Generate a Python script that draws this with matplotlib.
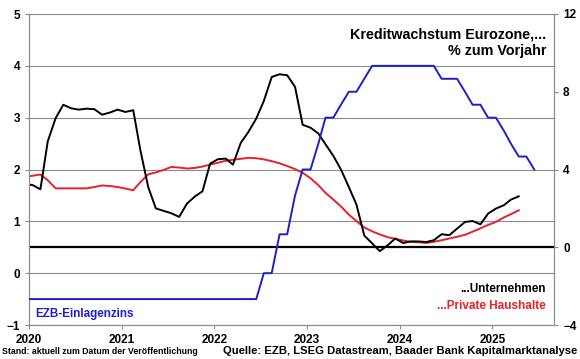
import numpy as np
import pandas as pd
import matplotlib
matplotlib.use("Agg")
import matplotlib.pyplot as plt
import matplotlib.dates as mdates

plt.rcParams['font.family'] = ['Liberation Sans', 'DejaVu Sans']
plt.rcParams['font.weight'] = 'bold'

# monthly values, Dec 2019 .. Jun 2025 (mid-month)
months = pd.date_range('2019-12-01', '2025-06-01', freq='MS') + pd.Timedelta(days=14)

# EZB-Einlagenzins, % (left axis)
ezb_rate = [-0.5] * 31 + [0.0, 0.0, 0.75, 0.75, 1.5, 2.0, 2.0, 2.5, 3.0, 3.0, 3.25, 3.5, 3.5,
            3.75, 4.0, 4.0, 4.0, 4.0, 4.0, 4.0, 4.0, 4.0, 4.0, 3.75, 3.75, 3.75, 3.5, 3.25,
            3.25, 3.0, 3.0, 2.75, 2.5, 2.25, 2.25, 2.0]

# Kreditwachstum Unternehmen, % yoy (right axis), Dec 2019 .. Apr 2025
unternehmen = [3.25, 3.2, 2.98, 5.45, 6.64, 7.33, 7.15, 7.08, 7.13, 7.1, 6.82, 6.93, 7.08,
               6.96, 7.05, 5.0, 3.1, 2.0, 1.87, 1.75, 1.56, 2.25, 2.6, 2.88, 4.3,
               4.53, 4.56, 4.25, 5.37, 5.93, 6.62, 7.53, 8.76, 8.9, 8.85, 8.25, 6.3,
               6.15, 5.85, 5.3, 4.7, 4.0, 3.1, 2.2, 0.6, 0.2, -0.2, 0.1, 0.45,
               0.22, 0.3, 0.3, 0.27, 0.36, 0.67, 0.62, 0.96, 1.3, 1.35, 1.18, 1.73,
               1.99, 2.16, 2.45, 2.62]

# Kreditwachstum Private Haushalte, % yoy (right axis), Dec 2019 .. Apr 2025
haushalte = [3.6, 3.68, 3.74, 3.45, 3.03, 3.03, 3.03, 3.03, 3.03, 3.1, 3.18, 3.15, 3.1,
             3.02, 2.93, 3.35, 3.75, 3.85, 3.98, 4.13, 4.1, 4.05, 4.08, 4.15, 4.25,
             4.35, 4.45, 4.5, 4.55, 4.6, 4.58, 4.52, 4.43, 4.32, 4.18, 4.02, 3.83,
             3.55, 3.19, 2.8, 2.45, 2.1, 1.68, 1.35, 1.02, 0.82, 0.66, 0.52, 0.43,
             0.35, 0.28, 0.26, 0.22, 0.28, 0.36, 0.45, 0.54, 0.64, 0.8, 0.97, 1.15,
             1.3, 1.53, 1.7, 1.9]

left_ticks = [-1, 0, 1, 2, 3, 4, 5]
right_ticks = [-4, 0, 4, 8, 12]

blue = '#1f1fc8'
red = '#e8202a'
grid_col = '#8c8c8c'

fig = plt.figure(figsize=(5.8, 3.59), dpi=100)
ax = fig.add_axes([29 / 580, 34 / 359, 525 / 580, 311 / 359])
ax2 = ax.twinx()

ax.set_ylim(-1, 5)
ax.set_yticks(left_ticks)
ax2.set_ylim(-4, 12)
ax2.set_yticks(right_ticks)
ax.set_xlim(pd.Timestamp('2020-01-01'), pd.Timestamp('2025-09-01'))
ax.xaxis.set_major_locator(mdates.YearLocator())
ax.xaxis.set_major_formatter(mdates.DateFormatter('%Y'))

# gridlines and the zero line of the right scale sit on ax2 (drawn below ax)
for t in left_ticks:
    ax2.axhline((t + 1) * 16 / 6 - 4, color=grid_col, lw=0.8, zorder=0)
ax2.axhline(0, color='black', lw=1.6, zorder=1)

ax2.plot(months[:len(haushalte)], haushalte, color=red, lw=1.4, zorder=3)
ax2.plot(months[:len(unternehmen)], unternehmen, color='black', lw=1.4, zorder=4)
ax.plot(months[:len(ezb_rate)], ezb_rate, color=blue, lw=1.4, zorder=5)

ax.set_zorder(2)
ax.patch.set_visible(False)

for a in (ax, ax2):
    for s in a.spines.values():
        s.set_color(grid_col)
        s.set_linewidth(0.8)
    a.spines['top'].set_visible(False)
    a.tick_params(colors='black', labelsize=8.5, length=3, width=0.8, color=grid_col)

ax.text(0.985, 0.955, 'Kreditwachstum Eurozone,...\n% zum Vorjahr', transform=ax.transAxes,
        ha='right', va='top', fontsize=10.3, fontweight='bold', linespacing=1.2)
ax.text(0.985, 0.115, '...Unternehmen', transform=ax.transAxes, ha='right', va='center',
        fontsize=8.5, fontweight='bold', color='black')
ax.text(0.985, 0.06, '...Private Haushalte', transform=ax.transAxes, ha='right', va='center',
        fontsize=8.5, fontweight='bold', color=red)
ax.text(0.012, 0.035, 'EZB-Einlagenzins', transform=ax.transAxes, ha='left', va='center',
        fontsize=8.4, fontweight='bold', color=blue)

fig.text(2 / 580, 1 - 352 / 359, 'Stand: aktuell zum Datum der Veröffentlichung',
         ha='left', va='center', fontsize=6.3, fontweight='bold')
fig.text(577 / 580, 1 - 351 / 359, 'Quelle: EZB, LSEG Datastream, Baader Bank Kapitalmarktanalyse',
         ha='right', va='center', fontsize=8.1, fontweight='bold')

fig.savefig('out.png', dpi=100)
